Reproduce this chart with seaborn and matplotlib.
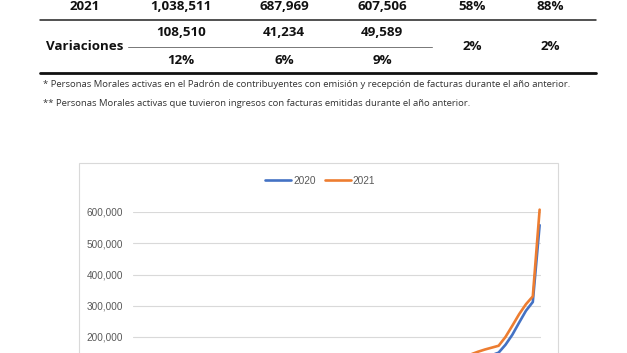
import pandas as pd
import seaborn as sns
import matplotlib.pyplot as plt
from matplotlib.lines import Line2D
from matplotlib.patches import Rectangle
from matplotlib.ticker import FuncFormatter

# --- datos de la tabla ---
fila_2021 = ['2021', '1,038,511', '687,969', '607,506', '58%', '88%']
var_abs = ['108,510', '41,234', '49,589']
var_pct = ['12%', '6%', '9%']
var_tasas = ['2%', '2%']
notas = ['* Personas Morales activas en el Padrón de contribuyentes con emisión y recepción de facturas durante el año anterior.',
         '** Personas Morales activas que tuvieron ingresos con facturas emitidas durante el año anterior.']

# --- datos de la grafica ---
anios = ['2020', '2021']
serie_2020 = [2000, 4000, 6000, 8000, 10000, 12000, 14000, 16000, 18000, 20000,
              22000, 24000, 27000, 29000, 32000, 34000, 37000, 40000, 42000, 45000,
              48000, 51000, 54000, 57000, 60000, 63000, 66000, 69000, 72000, 75000,
              78000, 81000, 84000, 87000, 90000, 93000, 96000, 99000, 102000, 105000,
              107000, 109000, 111000, 113000, 115000, 117000, 119000, 121000, 124000, 128000,
              132000, 137000, 142000, 150000, 175000, 207000, 246000, 284000, 312000, 557917]
serie_2021 = [3000, 5000, 7000, 9000, 11000, 13000, 15000, 18000, 20000, 23000,
              25000, 28000, 30000, 33000, 36000, 38000, 41000, 44000, 47000, 50000,
              53000, 56000, 59000, 62000, 65000, 68000, 71000, 74000, 77000, 80000,
              83000, 86000, 89000, 92000, 95000, 98000, 101000, 104000, 107000, 110000,
              113000, 116000, 119000, 122000, 125000, 128000, 131000, 134000, 138000, 145000,
              153000, 160000, 166000, 172000, 200000, 236000, 273000, 305000, 330000, 607506]
colores = ['#4472C4', '#ED7D31']

sns.set_style('white')
plt.rcParams['font.family'] = ['Open Sans', 'DejaVu Sans']

W, H = 627, 353
fx = lambda x: x / W
fy = lambda y: 1 - y / H

fig = plt.figure(figsize=(6.27, 3.53), dpi=100)
fig.patch.set_facecolor('white')

# tabla
cols_x = [85, 181, 284, 382, 472, 550]
estilo = dict(ha='center', va='center', fontsize=9.6, fontweight='bold', color='#111')
for x, t in zip(cols_x, fila_2021):
    fig.text(fx(x), fy(6), t, **estilo)
for x, t in zip(cols_x[1:4], var_abs):
    fig.text(fx(x), fy(33), t, **estilo)
for x, t in zip(cols_x[1:4], var_pct):
    fig.text(fx(x), fy(61), t, **estilo)
for x, t in zip(cols_x[4:], var_tasas):
    fig.text(fx(x), fy(47), t, **estilo)
fig.text(fx(85), fy(47), 'Variaciones', **estilo)

fig.add_artist(Line2D([fx(40), fx(596)], [fy(20), fy(20)], color='#222', lw=1.1))
fig.add_artist(Line2D([fx(128), fx(432)], [fy(47), fy(47)], color='#777', lw=0.7))
fig.add_artist(Line2D([fx(40), fx(596)], [fy(73), fy(73)], color='#111', lw=2.0))

fig.text(fx(43), fy(84.5), notas[0], ha='left', va='center', fontsize=6.8, color='#333')
fig.text(fx(43), fy(104), notas[1], ha='left', va='center', fontsize=6.8, color='#333')

# marco de la grafica
fig.add_artist(Rectangle((fx(79), -0.5), fx(558) - fx(79), fy(163) + 0.5,
                         transform=fig.transFigure, fill=False, ec='#d9d9d9', lw=0.8))

# grafica
df = pd.DataFrame({
    'punto': list(range(1, len(serie_2020) + 1)) * 2,
    'valor': serie_2020 + serie_2021,
    'anio': [anios[0]] * len(serie_2020) + [anios[1]] * len(serie_2021),
})

ax = fig.add_axes([fx(133), 1 - 399.5 / H, (541 - 133) / W, (399.5 - 212) / H])
sns.lineplot(data=df, x='punto', y='valor', hue='anio', palette=colores,
             ax=ax, legend=False, linewidth=1.9)
for ln in ax.lines:
    ln.set_clip_on(False)
ax.set_xlim(0.5, 60.2)
ax.set_ylim(0, 600000)
ax.set_yticks(range(200000, 600001, 100000))
ax.yaxis.set_major_formatter(FuncFormatter(lambda v, p: f'{v:,.0f}'))
ax.set_xticks([])
ax.set_xlabel('')
ax.set_ylabel('')
ax.grid(axis='y', color='#d9d9d9', lw=0.8)
for s in ax.spines.values():
    s.set_visible(False)
ax.tick_params(axis='y', length=0, pad=7.2, labelsize=7.2, labelcolor='#595959')
for lab in ax.get_yticklabels():
    lab.set_family('Liberation Sans')
ax.patch.set_alpha(0)

handles = [Line2D([], [], color=c, lw=1.9) for c in colores]
fig.legend(handles, anios, loc='center', bbox_to_anchor=(fx(320), fy(181)), ncol=2,
           frameon=False, handlelength=2.6, handletextpad=0.15, columnspacing=0.9,
           prop={'family': 'Liberation Sans', 'size': 7.3}, labelcolor='#595959')

fig.savefig('out.png', dpi=100, facecolor='white')
